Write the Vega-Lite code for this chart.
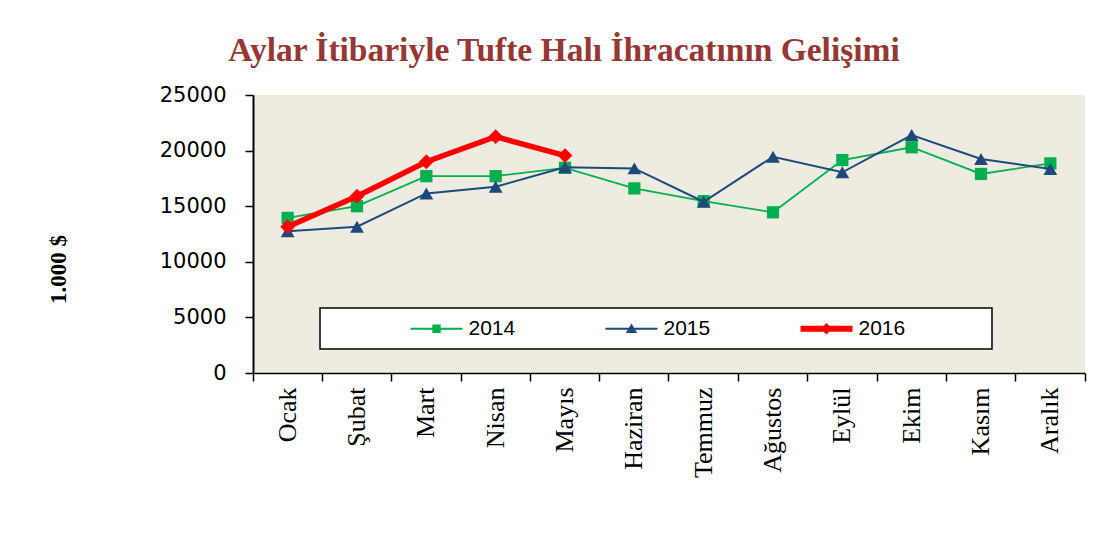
{
  "$schema": "https://vega.github.io/schema/vega-lite/v6.json",
  "width": 832,
  "height": 278,
  "autosize": {"type": "none"},
  "padding": {"left": 253, "top": 95, "right": 9, "bottom": 175},
  "background": "white",
  "title": {
    "text": "Aylar İtibariyle Tufte Halı İhracatının Gelişimi",
    "font": "Liberation Serif",
    "fontSize": 33.5,
    "fontWeight": "bold",
    "color": "#953735",
    "anchor": "middle",
    "frame": "group",
    "dx": -105,
    "offset": -10,
    "baseline": "alphabetic"
  },
  "config": {"view": {"fill": "#EEECE1", "stroke": null}},
  "data": {
    "values": [
      {"month": "Ocak", "year": "2014", "value": 13950},
      {"month": "Şubat", "year": "2014", "value": 15000},
      {"month": "Mart", "year": "2014", "value": 17700},
      {"month": "Nisan", "year": "2014", "value": 17700},
      {"month": "Mayıs", "year": "2014", "value": 18450},
      {"month": "Haziran", "year": "2014", "value": 16600},
      {"month": "Temmuz", "year": "2014", "value": 15450},
      {"month": "Ağustos", "year": "2014", "value": 14450},
      {"month": "Eylül", "year": "2014", "value": 19150},
      {"month": "Ekim", "year": "2014", "value": 20300},
      {"month": "Kasım", "year": "2014", "value": 17900},
      {"month": "Aralık", "year": "2014", "value": 18850},
      {"month": "Ocak", "year": "2015", "value": 12750},
      {"month": "Şubat", "year": "2015", "value": 13150},
      {"month": "Mart", "year": "2015", "value": 16150},
      {"month": "Nisan", "year": "2015", "value": 16750},
      {"month": "Mayıs", "year": "2015", "value": 18500},
      {"month": "Haziran", "year": "2015", "value": 18400},
      {"month": "Temmuz", "year": "2015", "value": 15400},
      {"month": "Ağustos", "year": "2015", "value": 19450},
      {"month": "Eylül", "year": "2015", "value": 18050},
      {"month": "Ekim", "year": "2015", "value": 21400},
      {"month": "Kasım", "year": "2015", "value": 19250},
      {"month": "Aralık", "year": "2015", "value": 18350},
      {"month": "Ocak", "year": "2016", "value": 13150},
      {"month": "Şubat", "year": "2016", "value": 15900},
      {"month": "Mart", "year": "2016", "value": 19000},
      {"month": "Nisan", "year": "2016", "value": 21250},
      {"month": "Mayıs", "year": "2016", "value": 19550}
    ]
  },
  "encoding": {
    "x": {
      "field": "month",
      "type": "ordinal",
      "sort": ["Ocak", "Şubat", "Mart", "Nisan", "Mayıs", "Haziran", "Temmuz", "Ağustos", "Eylül", "Ekim", "Kasım", "Aralık"],
      "scale": {"type": "band", "paddingInner": 0, "paddingOuter": 0},
      "axis": {
        "title": null,
        "bandPosition": 1,
        "tickExtra": true,
        "labelAngle": -90,
        "labelFont": "Liberation Serif",
        "labelFontSize": 26,
        "labelColor": "black",
        "labelPadding": 6,
        "tickSize": 8,
        "tickWidth": 1.5,
        "tickColor": "black",
        "domainColor": "black",
        "domainWidth": 1.5,
        "grid": false
      }
    },
    "y": {
      "field": "value",
      "type": "quantitative",
      "scale": {"domain": [0, 25000], "nice": false},
      "axis": {
        "title": "1.000 $",
        "titleFont": "Liberation Serif",
        "titleFontSize": 23,
        "titleFontWeight": "bold",
        "titleColor": "black",
        "titleX": -195,
        "titleY": 174,
        "titleAngle": 270,
        "titleAlign": "center",
        "titleBaseline": "middle",
        "values": [0, 5000, 10000, 15000, 20000, 25000],
        "format": "d",
        "labelFont": "DejaVu Sans",
        "labelFontSize": 21,
        "labelColor": "black",
        "labelPadding": 19,
        "tickSize": 8,
        "tickWidth": 1.5,
        "tickColor": "black",
        "domainColor": "black",
        "domainWidth": 2,
        "grid": false
      }
    },
    "color": {
      "field": "year",
      "type": "nominal",
      "scale": {"domain": ["2014", "2015", "2016"], "range": ["#00B050", "#1F497D", "#FF0000"]},
      "legend": {
        "orient": "none",
        "legendX": 67,
        "legendY": 213,
        "direction": "horizontal",
        "title": ".",
        "titleOrient": "left",
        "titleAnchor": "middle",
        "titleBaseline": "middle",
        "titleColor": "white",
        "titleFontSize": 6,
        "titlePadding": 94,
        "fillColor": "white",
        "strokeColor": "black",
        "padding": 10,
        "columnPadding": 89,
        "symbolSize": 441,
        "symbolStrokeWidth": 0,
        "labelFont": "Liberation Sans",
        "labelFontSize": 21,
        "labelColor": "black",
        "labelOffset": 21.5,
        "encode": {
          "legend": {"update": {"strokeWidth": {"value": 1.5}}},
          "symbols": {
            "update": {
              "shape": {"signal": "datum.value == '2014' ? 'M-2.476,-0.086H2.476V0.086H-2.476ZM-0.4,-0.4H0.4V0.4H-0.4Z' : datum.value == '2015' ? 'M-2.476,-0.095H2.476V0.095H-2.476ZM0,-0.495L0.543,0.4H-0.543Z' : 'M-2.476,-0.276H2.476V0.276H-2.476ZM0,-0.543L0.543,0L0,0.543L-0.543,0ZM14.8,0'"},
              "fill": {"signal": "scale('color', datum.value)"},
              "stroke": {"value": "transparent"},
              "strokeWidth": {"value": 0},
              "opacity": {"value": 1}
            }
          }
        }
      }
    }
  },
  "layer": [
    {"transform": [{"filter": "datum.year == '2014'"}], "mark": {"type": "line", "strokeWidth": 1.8}},
    {"transform": [{"filter": "datum.year == '2014'"}], "mark": {"type": "point", "shape": "square", "filled": true, "size": 150, "opacity": 1}},
    {"transform": [{"filter": "datum.year == '2015'"}], "mark": {"type": "line", "strokeWidth": 2}},
    {"transform": [{"filter": "datum.year == '2015'"}], "mark": {"type": "point", "shape": "triangle-up", "filled": true, "size": 190, "opacity": 1}},
    {"transform": [{"filter": "datum.year == '2016'"}], "mark": {"type": "line", "strokeWidth": 5.5}},
    {"transform": [{"filter": "datum.year == '2016'"}], "mark": {"type": "point", "shape": "diamond", "filled": true, "size": 220, "opacity": 1}}
  ]
}
